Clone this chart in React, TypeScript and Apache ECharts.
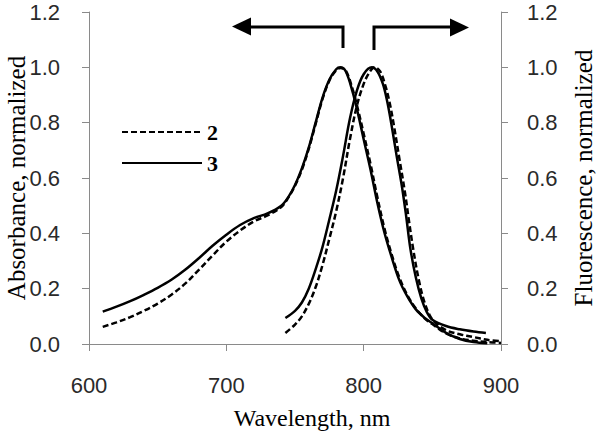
import React, { useEffect, useRef } from "react";
import * as echarts from "echarts";

// Wavelength ticks
const xTicks = [600, 700, 800, 900];

// Absorbance (left axis)
const absWl = [610, 620, 630, 640, 650, 660, 670, 680, 690, 700, 710, 720, 730, 740, 745, 750, 755, 760, 765, 770, 775, 780, 783, 787, 792, 796, 800, 805, 810, 815, 820, 826, 832, 838, 845, 850, 860, 870, 880, 890, 900];
const abs3 = [0.117, 0.135, 0.155, 0.178, 0.203, 0.232, 0.268, 0.31, 0.355, 0.395, 0.43, 0.455, 0.472, 0.5, 0.53, 0.575, 0.635, 0.71, 0.8, 0.89, 0.955, 0.993, 1.0, 0.985, 0.91, 0.83, 0.74, 0.63, 0.51, 0.405, 0.32, 0.23, 0.17, 0.125, 0.092, 0.075, 0.04, 0.018, 0.007, 0.003, null];
const abs2 = [0.062, 0.078, 0.097, 0.12, 0.146, 0.178, 0.218, 0.268, 0.32, 0.37, 0.41, 0.443, 0.465, 0.495, 0.528, 0.572, 0.63, 0.705, 0.795, 0.885, 0.952, 0.99, 0.998, 0.988, 0.92, 0.845, 0.76, 0.65, 0.53, 0.42, 0.33, 0.24, 0.175, 0.128, 0.09, 0.072, 0.038, 0.02, 0.012, 0.007, 0.004];

// Fluorescence (right axis)
const fl3Wl = [743, 750, 755, 760, 765, 770, 775, 780, 785, 790, 795, 800, 806, 810, 814, 817, 820, 824, 828, 831, 834, 838, 842, 846, 850, 860, 870, 880, 889];
const fl3 = [0.094, 0.12, 0.15, 0.2, 0.27, 0.35, 0.45, 0.555, 0.68, 0.815, 0.915, 0.975, 1.0, 0.985, 0.94, 0.88, 0.8, 0.68, 0.565, 0.46, 0.345, 0.24, 0.165, 0.115, 0.088, 0.065, 0.053, 0.045, 0.04];
const fl2Wl = [743, 750, 755, 760, 765, 770, 775, 780, 785, 790, 795, 800, 804, 808, 812, 816, 819, 822, 826, 830, 833, 836, 840, 844, 848, 852, 860, 870, 880, 890, 900];
const fl2 = [0.04, 0.07, 0.1, 0.145, 0.205, 0.285, 0.38, 0.48, 0.6, 0.74, 0.86, 0.94, 0.98, 1.0, 0.985, 0.93, 0.87, 0.79, 0.67, 0.55, 0.445, 0.345, 0.235, 0.155, 0.105, 0.078, 0.05, 0.035, 0.025, 0.015, 0.01];

const legendNames = ["2", "3"];

const pairs = (xs: number[], ys: (number | null)[]) =>
  xs.map((x, i) => [x, ys[i]]).filter((p) => p[1] !== null);

export default function App() {
  const ref = useRef<HTMLDivElement>(null);
  useEffect(() => {
    if (!ref.current) return;
    const chart = echarts.init(ref.current, null, { renderer: "svg" });
    const axisLineColor = "#8a8a8a";
    const tickFont = { fontFamily: "Liberation Sans", fontSize: 22, color: "#2a2a2a" };
    const solid = { color: "#000", width: 2.5, type: "solid" as const };
    const dashed = { color: "#000", width: 2.5, type: [6, 3] as any };
    const common = { type: "line" as const, symbol: "none", showSymbol: false, smooth: 0.35, color: "#000" };
    chart.setOption({
      animation: false,
      backgroundColor: "#fff",
      grid: { left: 89, right: 100, top: 12, bottom: 89, containLabel: false },
      legend: {
        data: legendNames,
        orient: "vertical",
        left: 121,
        top: 121,
        padding: 0,
        itemWidth: 80,
        itemHeight: 14,
        itemGap: 9,
        itemStyle: { color: "transparent", borderColor: "transparent", borderWidth: 0, opacity: 0 },
        textStyle: { fontFamily: "Liberation Serif", fontSize: 22, fontWeight: "bold", color: "#000" },
      },
      xAxis: {
        type: "value",
        min: xTicks[0],
        max: xTicks[xTicks.length - 1],
        interval: 100,
        axisLine: { show: true, lineStyle: { color: axisLineColor, width: 1 } },
        axisTick: { show: true, length: 7, inside: false, lineStyle: { color: axisLineColor } },
        axisLabel: { ...tickFont, margin: 30 },
        splitLine: { show: false },
      },
      yAxis: [
        {
          type: "value",
          min: 0,
          max: 1.2,
          interval: 0.2,
          position: "left",
          axisLine: { show: true, lineStyle: { color: axisLineColor, width: 1 } },
          axisTick: { show: true, length: 7, lineStyle: { color: axisLineColor } },
          axisLabel: { ...tickFont, margin: 29, formatter: (v: number) => v.toFixed(1) },
          splitLine: { show: false },
        },
        {
          type: "value",
          min: 0,
          max: 1.2,
          interval: 0.2,
          position: "right",
          axisLine: { show: true, lineStyle: { color: axisLineColor, width: 1 } },
          axisTick: { show: true, length: 7, lineStyle: { color: axisLineColor } },
          axisLabel: { ...tickFont, margin: 26, formatter: (v: number) => v.toFixed(1) },
          splitLine: { show: false },
        },
      ],
      series: [
        { ...common, name: "2", yAxisIndex: 0, data: pairs(absWl, abs2), lineStyle: dashed },
        { ...common, name: "3", yAxisIndex: 0, data: pairs(absWl, abs3), lineStyle: solid },
        { ...common, name: "2", yAxisIndex: 1, data: pairs(fl2Wl, fl2), lineStyle: dashed },
        { ...common, name: "3", yAxisIndex: 1, data: pairs(fl3Wl, fl3), lineStyle: solid },
      ],
      graphic: [
        {
          type: "text",
          x: 312,
          y: 418,
          style: { text: "Wavelength, nm", font: "24px 'Liberation Serif'", fill: "#000", align: "center", verticalAlign: "middle" },
        },
        {
          type: "text",
          x: 16,
          y: 178,
          rotation: Math.PI / 2,
          style: { text: "Absorbance, normalized", font: "25px 'Liberation Serif'", fill: "#000", align: "center", verticalAlign: "middle" },
        },
        {
          type: "text",
          x: 583,
          y: 178,
          rotation: Math.PI / 2,
          style: { text: "Fluorescence, normalized", font: "25px 'Liberation Serif'", fill: "#000", align: "center", verticalAlign: "middle" },
        },
        {
          type: "polyline",
          shape: { points: [[343, 48], [343, 27], [249, 27]] },
          style: { stroke: "#000", lineWidth: 3, fill: null },
        },
        {
          type: "polygon",
          shape: { points: [[232, 26.5], [251, 17.5], [251, 35.5]] },
          style: { fill: "#000" },
        },
        {
          type: "polyline",
          shape: { points: [[374, 50], [374, 27], [452, 27]] },
          style: { stroke: "#000", lineWidth: 3, fill: null },
        },
        {
          type: "polygon",
          shape: { points: [[469, 27.5], [450, 18.5], [450, 36.5]] },
          style: { fill: "#000" },
        },
      ],
    });
    return () => chart.dispose();
  }, []);
  return <div ref={ref} style={{ width: 601, height: 433, position: "absolute", left: 0, top: 0 }} />;
}
